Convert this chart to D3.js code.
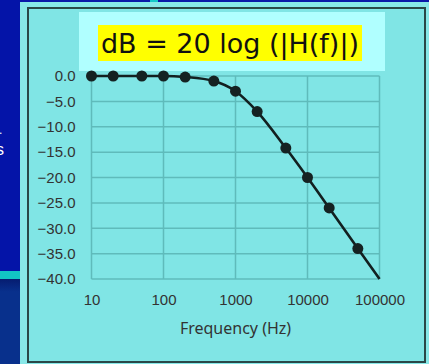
<!DOCTYPE html>
<html lang="en">
<head>
<meta charset="UTF-8">
<script src="https://d3js.org/d3.v7.min.js"></script>
<title>Bode magnitude</title>
<style>
  body { margin: 0; background: #84e7e7; }
  svg { display: block; }
</style>
</head>
<body>
<div id="chart"></div>
<script>
// frequency points (Hz) and magnitude (dB)
const freqs = [10, 20, 50, 100, 200, 500, 1000, 2000, 5000, 10000, 20000, 50000, 100000];
const dbValues = [0, 0, 0, 0, -0.2, -1.0, -3.0, -7.0, -14.2, -20.0, -26.0, -34.0, -40.0];
const markerCount = 12; // last point has no marker
const xTicks = [10, 100, 1000, 10000, 100000];
const yTicks = [0, -5, -10, -15, -20, -25, -30, -35, -40];

const width = 429, height = 364;
const svg = d3.select("#chart").append("svg")
  .attr("width", width).attr("height", height);

// slide background bits
svg.append("rect").attr("x", 0).attr("y", 0).attr("width", width).attr("height", height).attr("fill", "#88e8e8");
svg.append("rect").attr("x", 0).attr("y", 0).attr("width", width).attr("height", 2).attr("fill", "#0a18a8");
svg.append("rect").attr("x", 150).attr("y", 0).attr("width", 8).attr("height", 2).attr("fill", "#14c8c8");
svg.append("rect").attr("x", 0).attr("y", 0).attr("width", 20).attr("height", 271).attr("fill", "#0414a8");
svg.append("rect").attr("x", 0).attr("y", 271).attr("width", 20).attr("height", 8).attr("fill", "#12c4c4");
const grad = svg.append("defs").append("linearGradient").attr("id", "dk").attr("x1", 0).attr("y1", 0).attr("x2", 0).attr("y2", 1);
grad.append("stop").attr("offset", 0).attr("stop-color", "#061c70");
grad.append("stop").attr("offset", 0.15).attr("stop-color", "#08308c");
grad.append("stop").attr("offset", 1).attr("stop-color", "#08308c");
svg.append("rect").attr("x", 0).attr("y", 279).attr("width", 20).attr("height", 85).attr("fill", "url(#dk)");
svg.append("text").attr("x", -4).attr("y", 155).attr("fill", "#fff")
  .style("font", "16px 'Liberation Sans', sans-serif").text("s");
svg.append("text").attr("x", -1).attr("y", 134).attr("fill", "#fff")
  .style("font", "12px 'Liberation Sans', sans-serif").text(".");

// chart panel
svg.append("rect").attr("x", 28).attr("y", 8).attr("width", 397).attr("height", 354)
  .attr("fill", "#80e5e5").attr("stroke", "#2a4848").attr("stroke-width", 2);

// title box
svg.append("rect").attr("x", 79).attr("y", 12).attr("width", 306).attr("height", 59).attr("fill", "#b0ffff");
svg.append("rect").attr("x", 98).attr("y", 25).attr("width", 264).attr("height", 36).attr("fill", "#ffff00");
svg.append("text").attr("x", 230).attr("y", 53).attr("text-anchor", "middle")
  .attr("textLength", 258).attr("lengthAdjust", "spacingAndGlyphs")
  .attr("fill", "#111")
  .style("font", "27px 'DejaVu Sans', sans-serif")
  .text("dB = 20 log (|H(f)|)");

const x = d3.scaleLog().domain([10, 100000]).range([91.5, 379.5]);
const y = d3.scaleLinear().domain([-40, 0]).range([279, 76]);

const grid = svg.append("g").attr("stroke", "#5fbbbb").attr("stroke-width", 1.5);
grid.selectAll(".h").data(yTicks).join("line")
  .attr("x1", x(10)).attr("x2", x(100000))
  .attr("y1", d => y(d)).attr("y2", d => y(d));
grid.selectAll(".v").data(xTicks).join("line")
  .attr("x1", d => x(d)).attr("x2", d => x(d))
  .attr("y1", y(0)).attr("y2", y(-40));

const yAxis = svg.append("g").attr("transform", `translate(${x(10)},0)`)
  .call(d3.axisLeft(y).tickValues(yTicks).tickFormat(d3.format(".1f")).tickSize(0).tickPadding(16));
yAxis.select(".domain").remove();
yAxis.selectAll("text").attr("fill", "#333").style("font", "15px 'Liberation Sans', sans-serif");

const xAxis = svg.append("g").attr("transform", `translate(0,${y(-40)})`)
  .call(d3.axisBottom(x).tickValues(xTicks).tickFormat(d3.format("d")).tickSize(0).tickPadding(15));
xAxis.select(".domain").remove();
xAxis.selectAll("text").attr("fill", "#333").style("font", "15px 'Liberation Sans', sans-serif");

svg.append("text").attr("x", 235.5).attr("y", 334).attr("text-anchor", "middle")
  .attr("fill", "#333").style("font", "16px 'Noto Sans', sans-serif")
  .text("Frequency (Hz)");

const pts = freqs.map((f, i) => [f, dbValues[i]]);
const line = d3.line().x(d => x(d[0])).y(d => y(d[1])).curve(d3.curveMonotoneX);
svg.append("path").datum(pts).attr("d", line)
  .attr("fill", "none").attr("stroke", "#122020").attr("stroke-width", 2.6);

svg.selectAll(".dot").data(pts.slice(0, markerCount)).join("circle")
  .attr("cx", d => x(d[0])).attr("cy", d => y(d[1])).attr("r", 5.5)
  .attr("fill", "#152222");
</script>
</body>
</html>
